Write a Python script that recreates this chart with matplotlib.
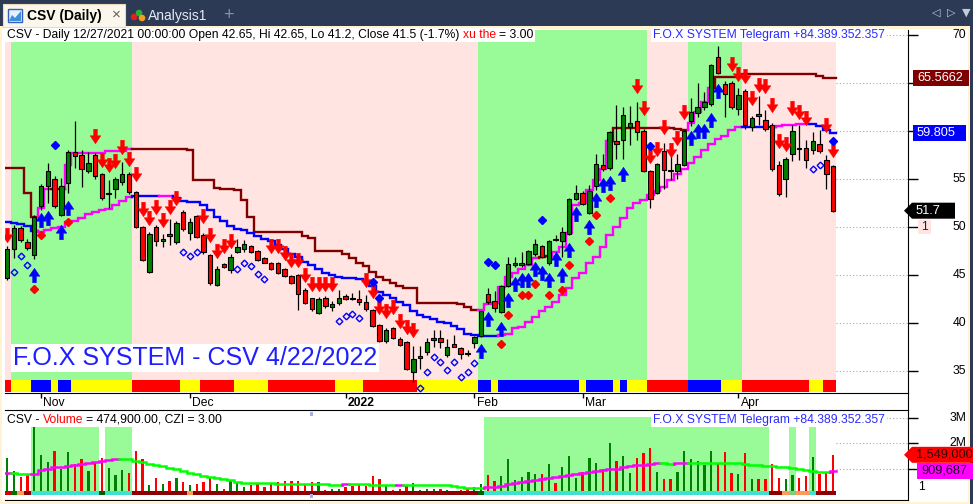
import numpy as np
import matplotlib
matplotlib.use("Agg")
import matplotlib.pyplot as plt
from matplotlib.patches import Rectangle, Polygon, Circle
from matplotlib.path import Path

plt.rcParams['font.family'] = ['Liberation Sans', 'DejaVu Sans']

W, H = 973, 504

# ---------------- data (daily bars, 25 Oct 2021 .. 22 Apr 2022) ----------------
opens = [44.7, 47.7, 49.9, 48.4, 47.1, 52.2, 54.3, 55.0, 51.3, 54.6,
         57.8, 57.5, 55.8, 57.5, 55.5, 53.45, 54.0, 54.7, 55.5, 53.6,
         50.0, 45.3, 50.0, 48.5, 49.25, 48.4, 51.6, 49.4, 51.1, 49.2,
         47.1, 44.0, 46.1, 45.5, 47.4, 47.7, 48.0, 47.5, 46.8, 46.3,
         46.3, 45.6, 44.9, 45.0, 43.4, 42.65, 41.0, 42.6, 41.7, 42.1,
         42.8, 42.65, 42.5, 42.2, 41.4, 39.8, 38.1, 39.5, 38.3, 38.0,
         34.9, 36.4, 37.0, 38.2, 38.4, 36.7, 37.8, 37.4, 36.85, 37.9,
         38.6, 43.0, 42.3, 41.1, 43.9, 46.0, 46.0, 46.1, 47.2, 48.0,
         46.2, 48.8, 48.5, 49.3, 52.9, 53.5, 51.5, 54.3, 56.5, 56.1,
         59.0, 59.1, 60.4, 61.0, 60.0, 55.8, 53.5, 57.9, 55.95, 55.8,
         56.5, 61.0, 61.9, 62.5, 62.8, 67.7, 64.9, 65.0, 62.3, 64.2,
         60.4, 61.8, 61.1, 60.6, 56.5, 55.0, 57.6, 58.25, 58.2, 58.0,
         58.6, 57.0, 56.4]
highs = [48.0, 50.2, 50.1, 48.7, 51.2, 54.5, 56.7, 55.3, 55.1, 58.0,
         61.0, 58.0, 57.8, 57.7, 55.6, 54.9, 55.2, 56.8, 55.7, 53.8,
         50.1, 49.5, 50.2, 49.3, 50.8, 50.6, 51.8, 50.9, 51.2, 49.4,
         47.2, 45.9, 46.3, 47.2, 48.7, 48.6, 48.1, 47.6, 46.9, 46.4,
         46.4, 45.7, 45.0, 45.1, 43.6, 42.65, 42.7, 42.8, 42.3, 43.4,
         43.0, 43.1, 43.4, 42.9, 41.5, 39.9, 39.5, 39.6, 38.5, 38.1,
         37.6, 37.6, 38.4, 39.3, 39.3, 38.3, 38.8, 37.5, 37.2, 38.6,
         41.3, 43.6, 43.3, 44.0, 46.9, 46.9, 47.4, 47.6, 48.7, 48.1,
         48.6, 49.2, 50.0, 53.0, 54.4, 53.7, 54.4, 57.6, 57.6, 60.0,
         62.7, 62.5, 62.6, 63.0, 60.2, 55.9, 56.7, 58.7, 57.6, 57.6,
         60.1, 63.4, 65.0, 64.1, 67.0, 68.9, 65.2, 65.2, 64.5, 64.4,
         61.6, 63.6, 62.2, 60.8, 56.9, 57.3, 60.6, 60.6, 59.1, 59.9,
         60.1, 57.5, 56.5]
lows = [44.5, 46.8, 48.4, 47.6, 46.7, 51.8, 52.5, 52.0, 51.1, 53.5,
        56.1, 54.2, 55.6, 55.0, 52.8, 52.0, 53.0, 54.4, 53.4, 49.9,
        46.5, 45.2, 48.0, 47.9, 48.1, 48.2, 49.6, 48.6, 48.9, 47.2,
        44.0, 43.9, 45.7, 45.2, 47.3, 47.4, 47.3, 46.5, 46.2, 45.5,
        45.1, 44.8, 44.1, 41.4, 42.0, 41.2, 40.9, 41.6, 41.2, 41.9,
        42.4, 42.4, 41.9, 41.3, 39.6, 38.0, 37.9, 38.3, 37.6, 35.1,
        33.9, 35.2, 36.7, 37.5, 37.4, 36.5, 37.5, 36.2, 36.6, 37.4,
        38.5, 42.0, 41.1, 41.0, 43.8, 45.8, 45.8, 46.0, 47.0, 46.8,
        46.0, 48.5, 46.9, 49.2, 52.8, 52.3, 51.4, 53.9, 55.8, 55.9,
        57.1, 57.1, 58.5, 59.1, 55.7, 52.0, 53.4, 54.0, 54.9, 55.0,
        56.4, 60.5, 61.5, 62.2, 62.6, 65.9, 61.5, 62.3, 61.7, 60.2,
        60.0, 60.6, 60.0, 55.8, 53.2, 53.1, 56.9, 57.0, 56.1, 57.6,
        57.7, 54.0, 51.6]
closes = [47.7, 49.9, 48.6, 47.8, 51.0, 54.3, 55.8, 52.2, 54.3, 57.8,
          57.4, 56.0, 56.7, 55.3, 53.0, 53.55, 55.0, 55.5, 53.6, 50.0,
          46.6, 49.3, 48.5, 48.8, 49.1, 50.4, 49.8, 50.5, 49.0, 47.4,
          44.2, 45.6, 45.8, 46.9, 47.9, 48.2, 47.4, 46.6, 46.3, 45.6,
          45.2, 44.9, 44.2, 43.0, 42.1, 41.5, 42.5, 41.8, 42.0, 42.6,
          42.5, 42.55, 42.2, 41.5, 39.7, 38.1, 39.3, 38.4, 37.7, 35.2,
          36.3, 36.6, 38.0, 38.4, 38.0, 37.5, 37.55, 36.8, 36.8, 38.5,
          41.2, 42.2, 41.6, 43.9, 46.1, 46.2, 46.3, 47.5, 48.2, 46.9,
          48.5, 48.6, 49.5, 52.9, 53.5, 52.4, 53.8, 56.6, 56.0, 59.9,
          58.6, 61.7, 60.8, 59.9, 55.8, 52.9, 56.6, 55.9, 55.85, 56.6,
          60.0, 62.0, 62.5, 63.0, 66.9, 66.0, 63.9, 62.5, 63.8, 60.6,
          61.4, 61.6, 60.2, 56.0, 53.4, 57.1, 60.0, 58.15, 57.0, 59.0,
          57.9, 55.5, 51.7]
# volume in millions
volume = [1.43, 0.91, 0.68, 0.78, 2.66, 1.54, 1.28, 1.70, 0.99, 1.66,
          1.19, 1.38, 0.91, 1.24, 1.41, 1.01, 0.75, 0.95, 0.84, 1.70,
          1.38, 0.36, 0.62, 0.40, 0.51, 0.62, 0.49, 0.36, 0.40, 0.49,
          0.62, 0.38, 0.20, 0.55, 0.42, 0.26, 0.36, 0.40, 0.29, 0.42,
          0.46, 0.51, 0.51, 0.51, 0.36, 0.475, 0.46, 0.16, 0.20, 0.20,
          0.29, 0.33, 0.36, 0.33, 0.71, 0.59, 0.36, 0.16, 0.20, 0.36,
          0.42, 0.16, 0.20, 0.20, 0.20, 0.16, 0.09, 0.16, 0.22, 0.26,
          0.40, 0.75, 0.51, 0.71, 1.38, 0.55, 0.68, 0.88, 0.78, 0.78,
          1.19, 0.42, 1.08, 1.50, 0.64, 0.88, 1.41, 1.21, 0.98, 2.03,
          1.30, 1.50, 0.84, 1.44, 1.63, 1.80, 0.88, 0.59, 0.59, 0.88,
          1.71, 1.38, 1.32, 1.15, 1.70, 1.19, 1.67, 0.82, 0.79, 1.63,
          0.59, 0.59, 0.59, 1.19, 0.64, 0.59, 0.75, 0.64, 0.71, 1.45,
          0.79, 0.82, 1.549]
vol_ma = [0.84, 0.84, 0.79, 0.79, 0.80, 0.95, 1.00, 1.05, 1.07, 1.12,
          1.15, 1.20, 1.22, 1.26, 1.30, 1.33, 1.37, 1.37, 1.37, 1.32,
          1.26, 1.20, 1.15, 1.10, 1.03, 0.97, 0.90, 0.84, 0.78, 0.72,
          0.67, 0.62, 0.58, 0.55, 0.46, 0.44, 0.42, 0.42, 0.42, 0.42,
          0.41, 0.41, 0.40, 0.40, 0.39, 0.38, 0.38, 0.38, 0.37, 0.37,
          0.38, 0.38, 0.38, 0.38, 0.37, 0.36, 0.36, 0.35, 0.36, 0.36,
          0.36, 0.36, 0.36, 0.36, 0.36, 0.34, 0.30, 0.27, 0.24, 0.22,
          0.22, 0.26, 0.28, 0.33, 0.38, 0.42, 0.46, 0.50, 0.55, 0.58,
          0.62, 0.66, 0.72, 0.76, 0.80, 0.84, 0.88, 0.92, 0.95, 0.98,
          1.00, 1.05, 1.11, 1.13, 1.16, 1.20, 1.24, 1.22, 1.19, 1.22,
          1.24, 1.24, 1.24, 1.24, 1.24, 1.24, 1.24, 1.24, 1.24, 1.20,
          1.16, 1.14, 1.12, 1.11, 1.08, 1.05, 1.01, 0.98, 0.95, 0.92,
          0.88, 0.88, 0.91]
# upper trailing line (dark red = bearish, magenta = bullish)
stop_hi = [56.1, 56.1, 56.1, 53.5, 51.0, 52.0, 54.0, 54.0, 54.0, 56.5,
           57.7, 57.7, 57.7, 57.7, 57.7, 57.9, 57.9, 57.9, 58.1, 58.1,
           58.1, 58.1, 58.1, 58.1, 58.1, 58.1, 58.1, 58.0, 54.9, 54.9,
           54.9, 54.1, 54.0, 54.0, 53.9, 52.8, 51.0, 49.5, 49.5, 49.5,
           49.5, 49.5, 49.5, 49.5, 49.1, 48.85, 47.5, 47.5, 47.5, 47.5,
           47.2, 46.8, 46.3, 45.9, 45.3, 44.8, 44.5, 44.2, 43.9, 43.65,
           43.65, 42.1, 42.1, 42.1, 42.1, 42.1, 42.1, 42.0, 41.7, 41.35,
           41.35, 42.0, 42.05, 43.8, 44.8, 45.2, 45.6, 46.0, 46.8, 46.9,
           47.0, 47.4, 47.95, 49.4, 52.3, 52.5, 53.85, 54.9, 56.0, 59.0,
           60.35, 60.35, 60.35, 60.35, 60.35, 60.35, 60.35, 60.35, 60.35, 60.2,
           60.1, 60.8, 62.0, 63.0, 64.5, 65.66, 65.66, 65.66, 65.66, 65.9,
           65.9, 65.9, 65.9, 65.9, 65.9, 65.9, 65.9, 65.9, 65.9, 65.9,
           65.75, 65.57, 65.57]
stop_hi_runs = [(0, 5), (1, 2), (0, 2), (1, 10), (0, 51), (1, 9), (0, 2), (1, 9), (0, 11), (1, 4), (0, 18)]
# lower trailing line (blue = bearish, magenta = bullish)
stop_lo = [50.55, 50.4, 50.3, 50.1, 49.6, 49.5, 49.7, 49.9, 50.0, 50.5,
           50.6, 50.9, 51.4, 51.6, 51.8, 51.85, 52.3, 52.7, 53.1, 53.2,
           53.2, 53.2, 53.2, 53.2, 53.2, 53.0, 52.7, 52.6, 52.6, 52.3,
           51.8, 51.0, 50.6, 50.1, 49.8, 49.7, 49.4, 49.1, 48.8, 48.5,
           48.1, 47.7, 47.2, 46.9, 46.4, 46.0, 45.6, 45.2, 45.0, 44.8,
           44.7, 44.65, 44.55, 44.4, 43.9, 43.2, 42.9, 42.6, 42.2, 41.9,
           41.3, 40.8, 40.6, 40.4, 40.1, 40.0, 39.7, 39.4, 38.9, 38.7,
           38.65, 38.65, 38.6, 38.7, 38.9, 39.45, 39.6, 40.1, 40.65, 41.2,
           41.7, 42.2, 42.9, 43.6, 44.65, 45.2, 46.2, 46.9, 47.95, 49.2,
           50.0, 50.9, 51.95, 52.5, 52.8, 53.3, 53.8, 54.2, 54.9, 55.5,
           56.0, 56.7, 57.3, 58.0, 58.6, 59.2, 59.5, 60.1, 60.4, 60.4,
           60.45, 60.45, 60.45, 60.4, 60.5, 60.6, 60.6, 60.7, 60.7, 60.7,
           60.5, 60.1, 59.805]
stop_lo_runs = [(0, 5), (1, 14), (0, 4), (1, 2), (0, 48), (1, 36), (0, 5), (1, 5), (0, 4)]

# signals
sell_idx = [0, 13, 14, 15, 16, 17, 18, 19, 20, 21, 22, 23, 24, 25, 29, 30, 31, 32, 33,
            39, 40, 41, 42, 43, 44, 45, 46, 47, 48, 53, 54, 55, 56, 57, 58, 59, 60,
            93, 94, 95, 96, 97, 98, 99, 100, 107, 108, 109, 110, 111, 112, 113, 114,
            115, 116, 117, 118, 121, 122]
sell_lvl = [49.2, 59.5, 57.0, 56.5, 56.9, 58.3, 57.1, 55.5, 51.9, 50.9, 52.1, 50.7, 52.1, 53.0,
            51.1, 49.2, 47.5, 48.0, 48.5, 48.0, 48.0, 47.3, 46.6, 46.6, 45.0, 44.1, 44.1, 44.1,
            44.1, 44.5, 43.3, 41.7, 41.2, 41.7, 40.2, 39.6, 39.3, 64.7, 62.4, 57.4, 58.1, 60.4,
            58.0, 59.3, 62.0, 67.0, 65.9, 65.7, 63.4, 64.8, 64.7, 62.7, 59.0, 58.6, 62.4, 62.0,
            61.4, 60.6, 58.0]
buy_idx = [4, 5, 6, 8, 9, 70, 71, 73, 74, 75, 76, 77, 78, 79, 80, 81, 82, 83, 84, 86, 87,
           88, 89, 91, 101, 102, 103, 104, 105]
buy_lvl = [45.05, 50.7, 50.9, 49.5, 52.0, 37.1, 40.4, 39.4, 42.4, 44.1, 44.5, 44.5, 45.6,
           45.2, 44.5, 46.7, 45.0, 47.6, 51.35, 50.05, 52.8, 54.4, 54.6, 55.5, 59.3, 60.0,
           60.0, 61.15, 64.2]
red_dot_idx = [4, 5, 9, 73, 74, 76, 77, 78, 80, 82, 83, 86, 87, 89]
red_dot_lvl = [43.5, 49.2, 50.5, 37.8, 40.8, 42.9, 42.9, 44.1, 42.9, 43.4, 46.0, 48.5, 51.25, 53.05]
blue_dot_idx = [7, 54, 55, 71, 72, 79, 95, 122]
blue_dot_lvl = [58.5, 44.3, 42.6, 46.4, 46.0, 50.7, 58.4, 59.0]
ring_idx = [1, 2, 3, 26, 27, 28, 34, 35, 36, 37, 38, 49, 50, 51, 52, 61, 62, 63, 64, 65,
            66, 67, 68, 69, 119, 120]
ring_lvl = [45.3, 47.0, 46.0, 47.4, 47.0, 47.4, 45.65, 46.3, 45.9, 45.1, 44.55, 40.2, 40.7,
            40.9, 40.5, 33.2, 34.9, 36.5, 35.9, 35.1, 35.9, 34.4, 34.9, 35.8, 56.0, 56.5]

# background zones (G = green, P = pink) and bottom trend ribbon (R / Y / B)
bg_runs = [('P', 1), ('G', 18), ('P', 51), ('G', 25), ('P', 6), ('G', 8), ('P', 14)]
ribbon_runs = [('R', 1), ('Y', 3), ('B', 3), ('Y', 1), ('B', 2), ('Y', 9), ('R', 7), ('Y', 3),
               ('R', 5), ('Y', 5), ('R', 10), ('Y', 4), ('R', 8), ('Y', 9), ('B', 2), ('Y', 1),
               ('B', 12), ('Y', 1), ('B', 4), ('Y', 1), ('B', 1), ('Y', 3), ('R', 6), ('B', 5),
               ('Y', 3), ('R', 10), ('Y', 2), ('R', 2)]
vol_zones = [(4, 13, 2.64), (15, 18, 2.64), (71, 112, 3.03), (116, 116, 2.64), (119, 119, 2.64)]

month_idx = [5, 27, 50, 69, 85, 108]
month_lbl = ['Nov', 'Dec', '2022', 'Feb', 'Mar', 'Apr']
price_ticks = [35, 40, 45, 50, 55, 60, 65, 70]

# ---------------- figure ----------------
n = len(closes)
idx = np.arange(n)
o, c = np.array(opens), np.array(closes)
hi, lo = np.array(highs), np.array(lows)
up = c >= o

GREEN_BG, PINK_BG = '#98fb98', '#ffe4e1'
MAG, DRED, BLUE = '#ff00ff', '#800000', '#0000ff'

fig = plt.figure(figsize=(W / 100, H / 100), dpi=100)
fig.patch.set_facecolor('#2c3a56')


def rect(x0, y0, x1, y1):
    return [x0 / W, 1 - y1 / H, (x1 - x0) / W, (y1 - y0) / H]


base = fig.add_axes([0, 0, 1, 1], zorder=-1)
base.set_xlim(0, W); base.set_ylim(H, 0); base.axis('off')
base.add_patch(Rectangle((0, 26), 970, 478, fc='#fff3d2', ec='none'))
base.add_patch(Rectangle((2, 29), 966, 473, fc='white', ec='none'))
# header tabs
base.add_patch(Rectangle((3, 4), 122, 23, fc='#fcf7ec', ec='#e9dcb8', lw=0.8))
base.add_patch(Rectangle((8, 9), 14, 13, fc='#e6f0ff', ec='#2f5fbf', lw=1))
base.add_patch(Polygon([(9, 21), (12, 15), (15, 18), (21, 11), (21, 21)], fc='#3c8fd8', ec='none'))
base.text(27, 16, 'CSV (Daily)', fontsize=10, fontweight='bold', color='black', va='center')
base.text(116, 15, '\u00d7', fontsize=11, color='#606060', va='center', ha='center')
for (cx, cy, col) in [(134, 17, '#e02020'), (139, 13, '#30b030'), (142, 18, '#f0a020')]:
    base.add_patch(Circle((cx, cy), 3.3, fc=col, ec='none'))
base.text(148, 16, 'Analysis1', fontsize=10, color='#e4e9f2', va='center')
base.text(228, 15, '+', fontsize=13, color='#8291aa', va='center', ha='center')
for xx, s in [(936, '\u25c1'), (951, '\u25b7'), (966, '\u25bc')]:
    base.text(xx, 13, s, fontsize=8, color='#c4ccda', va='center', ha='center', family='DejaVu Sans')

# ---------------- price panel ----------------
ax = fig.add_axes(rect(5, 30, 908, 393))
XL = (-0.32, 133.07)
ax.set_xlim(*XL); ax.set_ylim(32.71, 70.52)
ax.patch.set_alpha(0)
for s in ['top', 'left']:
    ax.spines[s].set_visible(False)
ax.set_xticks([])
ax.yaxis.tick_right()
ax.set_yticks(price_ticks)
ax.tick_params(axis='y', length=7, width=1, labelright=False)

strip_top = 13 / 363
pos = 0
for state, cnt in bg_runs:
    ax.axvspan(pos - 0.5, pos + cnt - 0.5, ymin=strip_top, ymax=1,
               color=GREEN_BG if state == 'G' else PINK_BG, lw=0, zorder=0.5)
    pos += cnt
ax.hlines(price_ticks, n - 0.5, XL[1], colors='#a8a8a8', linestyles=(0, (1, 2)), lw=0.8, zorder=0.3)

rib_col = {'R': '#ff0000', 'Y': '#ffff00', 'B': '#0000ff'}
pos = 0
for state, cnt in ribbon_runs:
    ax.add_patch(Rectangle((pos - 0.5, 0.003), cnt, 0.033, transform=ax.get_xaxis_transform(),
                           fc=rib_col[state], ec='none', zorder=1.5))
    pos += cnt


def expand(runs):
    out = []
    for st, k in runs:
        out += [st] * k
    return out


def stepped(a, vals, cols, lw, z=2):
    i = 0
    while i < len(vals):
        j = i
        while j + 1 < len(vals) and cols[j + 1] == cols[i]:
            j += 1
        xs, ys = [], []
        if i > 0:
            xs.append(i - 0.5); ys.append(vals[i - 1])
        for k in range(i, j + 1):
            xs += [k - 0.5, k + 0.5]; ys += [vals[k], vals[k]]
        a.plot(xs, ys, color=cols[i], lw=lw, zorder=z, solid_joinstyle='miter')
        i = j + 1


stepped(ax, stop_hi, [MAG if s else DRED for s in expand(stop_hi_runs)], 1.7)
stepped(ax, stop_lo, [MAG if s else BLUE for s in expand(stop_lo_runs)], 1.7)

# candles
ax.vlines(idx, lo, hi, color='black', lw=0.9, zorder=3)
body_lo = np.minimum(o, c)
body_h = np.maximum(np.abs(c - o), 0.08)
ax.bar(idx, body_h, bottom=body_lo, width=0.66, color=np.where(up, '#008000', '#ff0000'),
       edgecolor='black', linewidth=0.8, zorder=4)

# signal markers
av = [(0, 0.5), (0.37, -0.05), (0.13, -0.05), (0.13, -0.5), (-0.13, -0.5), (-0.13, -0.05),
      (-0.37, -0.05), (0, 0.5)]
arrow_up = Path(av, [Path.MOVETO] + [Path.LINETO] * 6 + [Path.CLOSEPOLY])
arrow_dn = Path([(x, -y) for x, y in av], arrow_up.codes)
ax.plot(sell_idx, sell_lvl, ls='none', marker=arrow_dn, ms=10.5, mfc='#ff0000', mec='#ff0000', mew=0.3, zorder=6)
ax.plot(buy_idx, buy_lvl, ls='none', marker=arrow_up, ms=10.5, mfc='#0000ff', mec='#0000ff', mew=0.3, zorder=6)
ax.plot(red_dot_idx, red_dot_lvl, ls='none', marker='D', ms=3.8, mfc='#ff0000', mec='#ff0000', zorder=6)
ax.plot(blue_dot_idx, blue_dot_lvl, ls='none', marker='D', ms=3.8, mfc='#0000ff', mec='#0000ff', zorder=6)
ax.plot(ring_idx, ring_lvl, ls='none', marker='D', ms=3.4, mfc='none', mec='#0000ff', mew=1.0, zorder=6)

# ---------------- date strip ----------------
axd = fig.add_axes(rect(5, 393, 908, 410))
axd.set_xlim(*XL); axd.set_ylim(0, 1)
axd.patch.set_alpha(0)
axd.set_xticks([]); axd.set_yticks([])
for s in ['top', 'left']:
    axd.spines[s].set_visible(False)
axd.vlines(month_idx, 0.7, 1, color='black', lw=1)
for mi, ml in zip(month_idx, month_lbl):
    axd.text(mi + 0.35, 0.42, ml, fontsize=8.7, va='center', ha='left',
             fontweight='bold' if ml == '2022' else 'normal')

# ---------------- volume panel ----------------
axv = fig.add_axes(rect(5, 410, 908, 500))
axv.set_xlim(*XL); axv.set_ylim(-0.237, 3.32)
axv.patch.set_alpha(0)
for s in ['top', 'left']:
    axv.spines[s].set_visible(False)
axv.set_xticks([])
axv.yaxis.tick_right()
axv.set_yticks([1, 2, 3])
axv.tick_params(axis='y', length=7, width=1, labelright=False)
axv.hlines([1, 2, 3], n - 0.5, XL[1], colors='#a8a8a8', linestyles=(0, (1, 2)), lw=0.8, zorder=0.3)
in_zone = np.zeros(n, bool)
for s0, s1, top in vol_zones:
    axv.add_patch(Rectangle((s0 - 0.5, 0), s1 - s0 + 1, top, fc=GREEN_BG, ec='none', zorder=0.5))
    in_zone[s0:s1 + 1] = True
axv.bar(idx, volume, width=0.34, color=np.where(up, '#008000', '#ff0000'), zorder=2)
ma_cols = [MAG] + [MAG if vol_ma[i] > vol_ma[i - 1] else '#00ff00' for i in range(1, n)]
stepped(axv, vol_ma, ma_cols, 1.8, z=3)
strip_cols = np.where(in_zone, '#40e0d0', '#8b0000').astype(object)
for k, col in {0: '#d00000', 1: '#007000', 2: '#ff9a5a', 14: '#006000', 27: '#ff9a5a',
               70: '#006000', 115: '#ff9a5a', 117: '#ff9a5a', 118: '#ff9a5a', 116: '#7ccf7c'}.items():
    strip_cols[k] = col
for i in range(n):
    axv.add_patch(Rectangle((i - 0.5, -0.03), 1, 0.16, fc=strip_cols[i], ec='none', zorder=4))
axv.add_patch(Rectangle((45 - 0.2, 0.93), 0.45, 0.05, transform=axv.get_xaxis_transform(),
                        fc='#a9aee8', ec='none', zorder=5, clip_on=False))
axv.add_patch(Rectangle((45 - 0.2, 0.02), 0.45, 0.05, transform=axv.get_xaxis_transform(),
                        fc='#a9aee8', ec='none', zorder=5, clip_on=False))

# ---------------- overlay: titles, axis labels, value tags ----------------
ov = fig.add_axes([0, 0, 1, 1], zorder=20)
ov.set_xlim(0, W); ov.set_ylim(H, 0); ov.axis('off')
ov.patch.set_alpha(0)
rend = fig.canvas.get_renderer()
FS = 8.7


def py(a, v):
    return H - a.transData.transform((0, v))[1]


def rich(x, y, parts, gap=3.3):
    x0 = x
    for s, col in parts:
        t = ov.text(x, y, s, color=col, fontsize=FS, ha='left', va='center', zorder=3)
        x += t.get_window_extent(rend).width + gap
    ov.add_patch(Rectangle((x0 - 2, y - 7), x - gap - x0 + 4, 14, fc='white', ec='none', zorder=2))


rich(7, 35, [('CSV - Daily 12/27/2021 00:00:00 Open 42.65, Hi 42.65, Lo 41.2, Close 41.5 (-1.7%)', 'black'),
             ('xu the', '#ff0000'), ('= 3.00', 'black')])
rich(653, 35, [('F.O.X SYSTEM Telegram +84.389.352.357', '#2a2aff')])
rich(7, 420, [('CSV -', 'black'), ('Volume', '#ff0000'), ('= 474,900.00, CZI = 3.00', 'black')])
rich(653, 420, [('F.O.X SYSTEM Telegram +84.389.352.357', '#2a2aff')])

ov.text(13, 358, 'F.O.X SYSTEM - CSV 4/22/2022', fontsize=18, color='#1e1eff', ha='left', va='center',
        zorder=3, bbox=dict(boxstyle='square,pad=0.08', fc='white', ec='none'))

# price labels; 60 and 65 sit under the value tags, as in the original
for v in price_ticks:
    if v in (60, 65):
        continue
    ov.text(966, py(ax, v), str(v), fontsize=FS, ha='right', va='center', zorder=3)
for v, s in [(3, '3M'), (2, '2M')]:
    ov.text(966, py(axv, v), s, fontsize=FS, ha='right', va='center', zorder=3)


def tag(yc, x0, x1, text, fc, tc, tip=False, h=16):
    y0, y1 = yc - h / 2, yc + h / 2
    pts = [(x0, y0), (x1, y0), (x1, y1), (x0, y1)]
    if tip:
        pts = [(x0 - 8, yc)] + pts
    ov.add_patch(Polygon(pts, closed=True, fc=fc, ec='none', zorder=4))
    ov.text(x0 + 4, yc, text, color=tc, fontsize=FS + 0.5, ha='left', va='center', zorder=5)


tag(py(ax, stop_hi[-1]), 913, 969, '65.5662', DRED, 'white')
tag(py(ax, stop_lo[-1]), 913, 966, '59.805', BLUE, 'white')
tag(py(ax, closes[-1]), 912, 955, '51.7', 'black', 'white', tip=True)
ov.add_patch(Rectangle((918, 220), 13, 14, fc=PINK_BG, ec='none', zorder=4))
ov.text(924.5, 227, '1', fontsize=FS, ha='center', va='center', color='#202040', zorder=5)
tag(py(axv, volume[-1]), 912, 973, '1,549,000', '#ff0000', '#300000', tip=True)
tag(py(axv, vol_ma[-1]), 917, 973, '909,687', MAG, '#200020')
ov.text(918, 487, '1', fontsize=FS, ha='left', va='center', zorder=5)

fig.savefig('out.png', dpi=100, facecolor=fig.get_facecolor())
